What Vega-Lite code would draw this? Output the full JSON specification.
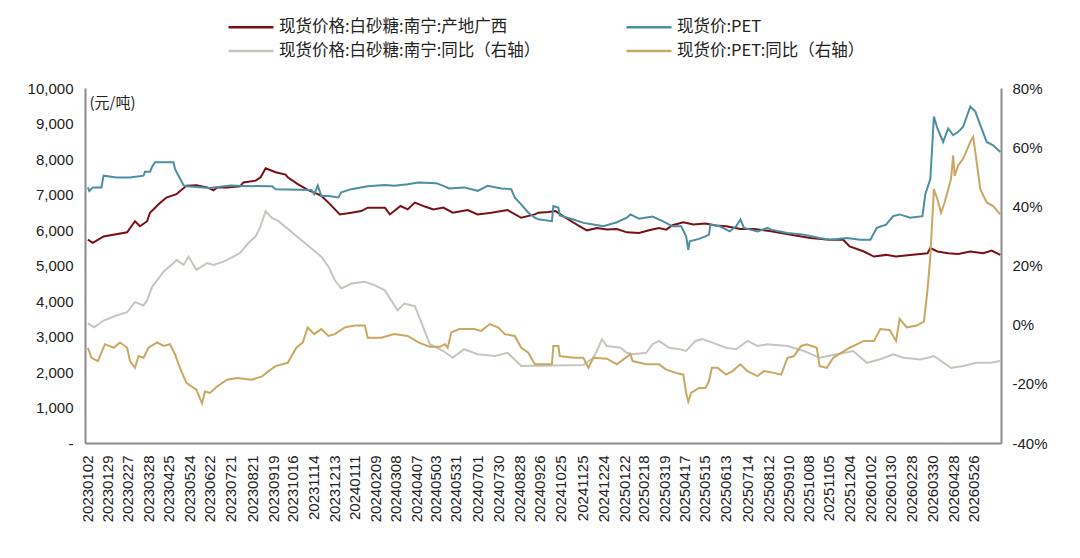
{
  "$schema": "https://vega.github.io/schema/vega-lite/v6.json",
  "width": 916,
  "height": 355,
  "autosize": {"type": "none"},
  "padding": {"left": 85, "top": 88, "right": 79, "bottom": 115},
  "background": "#ffffff",
  "datasets": {
    "sugar": [
      {"d": "2023-01-02", "v": 5727}, {"d": "2023-01-09", "v": 5640}, {"d": "2023-01-24", "v": 5820}, {"d": "2023-02-26", "v": 5934},
      {"d": "2023-03-04", "v": 6105}, {"d": "2023-03-09", "v": 6248}, {"d": "2023-03-16", "v": 6105}, {"d": "2023-03-26", "v": 6248},
      {"d": "2023-03-30", "v": 6487}, {"d": "2023-04-11", "v": 6724}, {"d": "2023-04-22", "v": 6914}, {"d": "2023-05-06", "v": 7009},
      {"d": "2023-05-20", "v": 7245}, {"d": "2023-06-03", "v": 7260}, {"d": "2023-06-18", "v": 7200}, {"d": "2023-06-27", "v": 7120},
      {"d": "2023-07-02", "v": 7200}, {"d": "2023-07-16", "v": 7200}, {"d": "2023-08-03", "v": 7230}, {"d": "2023-08-08", "v": 7340},
      {"d": "2023-08-25", "v": 7390}, {"d": "2023-09-01", "v": 7484}, {"d": "2023-09-08", "v": 7740}, {"d": "2023-09-22", "v": 7626},
      {"d": "2023-10-06", "v": 7560}, {"d": "2023-10-09", "v": 7484}, {"d": "2023-10-23", "v": 7293}, {"d": "2023-11-06", "v": 7130},
      {"d": "2023-11-20", "v": 7009}, {"d": "2023-11-25", "v": 6960}, {"d": "2023-12-05", "v": 6772}, {"d": "2023-12-21", "v": 6439},
      {"d": "2024-01-06", "v": 6487}, {"d": "2024-01-20", "v": 6533}, {"d": "2024-01-29", "v": 6630}, {"d": "2024-02-22", "v": 6630},
      {"d": "2024-02-29", "v": 6439}, {"d": "2024-03-15", "v": 6676}, {"d": "2024-03-25", "v": 6580}, {"d": "2024-04-04", "v": 6772},
      {"d": "2024-04-18", "v": 6660}, {"d": "2024-04-30", "v": 6580}, {"d": "2024-05-14", "v": 6630}, {"d": "2024-05-27", "v": 6487},
      {"d": "2024-06-17", "v": 6560}, {"d": "2024-07-01", "v": 6439}, {"d": "2024-07-20", "v": 6487}, {"d": "2024-08-12", "v": 6560},
      {"d": "2024-08-31", "v": 6345}, {"d": "2024-09-19", "v": 6439}, {"d": "2024-09-24", "v": 6487}, {"d": "2024-10-08", "v": 6505},
      {"d": "2024-10-18", "v": 6533}, {"d": "2024-11-01", "v": 6345}, {"d": "2024-11-21", "v": 6105}, {"d": "2024-12-01", "v": 5991},
      {"d": "2024-12-15", "v": 6058}, {"d": "2024-12-29", "v": 6011}, {"d": "2025-01-12", "v": 6030}, {"d": "2025-01-26", "v": 5934},
      {"d": "2025-02-12", "v": 5915}, {"d": "2025-02-26", "v": 5991}, {"d": "2025-03-12", "v": 6058}, {"d": "2025-03-22", "v": 6011},
      {"d": "2025-03-31", "v": 6134}, {"d": "2025-04-15", "v": 6220}, {"d": "2025-04-29", "v": 6153}, {"d": "2025-05-16", "v": 6182},
      {"d": "2025-05-31", "v": 6125}, {"d": "2025-06-14", "v": 6105}, {"d": "2025-07-04", "v": 6030}, {"d": "2025-07-23", "v": 6030},
      {"d": "2025-08-16", "v": 5963}, {"d": "2025-09-13", "v": 5869}, {"d": "2025-10-10", "v": 5775}, {"d": "2025-11-06", "v": 5726},
      {"d": "2025-11-25", "v": 5726}, {"d": "2025-12-04", "v": 5536}, {"d": "2025-12-24", "v": 5394}, {"d": "2026-01-07", "v": 5251},
      {"d": "2026-01-24", "v": 5299}, {"d": "2026-02-07", "v": 5251}, {"d": "2026-02-27", "v": 5299}, {"d": "2026-03-23", "v": 5346},
      {"d": "2026-03-27", "v": 5489}, {"d": "2026-04-06", "v": 5394}, {"d": "2026-04-21", "v": 5346}, {"d": "2026-05-05", "v": 5327},
      {"d": "2026-05-22", "v": 5394}, {"d": "2026-06-09", "v": 5346}, {"d": "2026-06-21", "v": 5422}, {"d": "2026-07-03", "v": 5299}
    ],
    "pet": [
      {"d": "2023-01-02", "v": 7200}, {"d": "2023-01-04", "v": 7100}, {"d": "2023-01-09", "v": 7200}, {"d": "2023-01-21", "v": 7200},
      {"d": "2023-01-24", "v": 7530}, {"d": "2023-02-11", "v": 7480}, {"d": "2023-03-02", "v": 7480}, {"d": "2023-03-21", "v": 7530},
      {"d": "2023-03-23", "v": 7640}, {"d": "2023-03-30", "v": 7640}, {"d": "2023-04-02", "v": 7780}, {"d": "2023-04-06", "v": 7910},
      {"d": "2023-05-02", "v": 7910}, {"d": "2023-05-04", "v": 7720}, {"d": "2023-05-09", "v": 7530}, {"d": "2023-05-16", "v": 7260},
      {"d": "2023-05-20", "v": 7230}, {"d": "2023-06-22", "v": 7180}, {"d": "2023-07-21", "v": 7250}, {"d": "2023-08-08", "v": 7240},
      {"d": "2023-09-17", "v": 7230}, {"d": "2023-09-22", "v": 7150}, {"d": "2023-11-11", "v": 7130}, {"d": "2023-11-15", "v": 7010},
      {"d": "2023-11-20", "v": 7250}, {"d": "2023-11-25", "v": 6960}, {"d": "2023-12-05", "v": 6960}, {"d": "2023-12-19", "v": 6915},
      {"d": "2023-12-23", "v": 7060}, {"d": "2024-01-06", "v": 7151}, {"d": "2024-01-29", "v": 7230}, {"d": "2024-02-22", "v": 7265},
      {"d": "2024-03-06", "v": 7245}, {"d": "2024-03-25", "v": 7290}, {"d": "2024-04-09", "v": 7340}, {"d": "2024-05-04", "v": 7320},
      {"d": "2024-05-14", "v": 7245}, {"d": "2024-05-22", "v": 7170}, {"d": "2024-06-12", "v": 7200}, {"d": "2024-07-01", "v": 7103},
      {"d": "2024-07-15", "v": 7245}, {"d": "2024-08-03", "v": 7170}, {"d": "2024-08-17", "v": 7150}, {"d": "2024-08-22", "v": 6910},
      {"d": "2024-08-31", "v": 6724}, {"d": "2024-09-10", "v": 6487}, {"d": "2024-09-19", "v": 6345}, {"d": "2024-09-24", "v": 6300},
      {"d": "2024-10-13", "v": 6248}, {"d": "2024-10-15", "v": 6676}, {"d": "2024-10-22", "v": 6630}, {"d": "2024-10-24", "v": 6410},
      {"d": "2024-11-12", "v": 6296}, {"d": "2024-11-26", "v": 6200}, {"d": "2024-12-10", "v": 6153}, {"d": "2024-12-24", "v": 6105},
      {"d": "2025-01-12", "v": 6220}, {"d": "2025-01-26", "v": 6345}, {"d": "2025-01-31", "v": 6439}, {"d": "2025-02-12", "v": 6320},
      {"d": "2025-03-03", "v": 6380}, {"d": "2025-03-17", "v": 6250}, {"d": "2025-03-31", "v": 6105}, {"d": "2025-04-12", "v": 6105},
      {"d": "2025-04-19", "v": 5820}, {"d": "2025-04-22", "v": 5442}, {"d": "2025-04-24", "v": 5680}, {"d": "2025-05-07", "v": 5750},
      {"d": "2025-05-16", "v": 5820}, {"d": "2025-05-21", "v": 5870}, {"d": "2025-05-23", "v": 6153}, {"d": "2025-06-05", "v": 6105},
      {"d": "2025-06-19", "v": 5960}, {"d": "2025-06-28", "v": 6105}, {"d": "2025-07-04", "v": 6296}, {"d": "2025-07-09", "v": 6058},
      {"d": "2025-07-28", "v": 5960}, {"d": "2025-08-11", "v": 6058}, {"d": "2025-08-16", "v": 6011}, {"d": "2025-09-08", "v": 5915},
      {"d": "2025-10-01", "v": 5870}, {"d": "2025-10-23", "v": 5775}, {"d": "2025-11-06", "v": 5726}, {"d": "2025-11-30", "v": 5775},
      {"d": "2025-12-19", "v": 5726}, {"d": "2026-01-02", "v": 5726}, {"d": "2026-01-11", "v": 6059}, {"d": "2026-01-24", "v": 6153},
      {"d": "2026-02-03", "v": 6391}, {"d": "2026-02-12", "v": 6439}, {"d": "2026-02-27", "v": 6345}, {"d": "2026-03-16", "v": 6391},
      {"d": "2026-03-20", "v": 7009}, {"d": "2026-03-27", "v": 7436}, {"d": "2026-04-01", "v": 9194}, {"d": "2026-04-06", "v": 8860},
      {"d": "2026-04-14", "v": 8481}, {"d": "2026-04-21", "v": 8860}, {"d": "2026-04-28", "v": 8670}, {"d": "2026-05-05", "v": 8765},
      {"d": "2026-05-12", "v": 8908}, {"d": "2026-05-22", "v": 9478}, {"d": "2026-05-29", "v": 9336}, {"d": "2026-06-05", "v": 8955},
      {"d": "2026-06-14", "v": 8481}, {"d": "2026-06-23", "v": 8386}, {"d": "2026-07-03", "v": 8196}
    ],
    "sugar_yoy": [
      {"d": "2023-01-02", "v": 0.4}, {"d": "2023-01-11", "v": -0.9}, {"d": "2023-01-24", "v": 1.4}, {"d": "2023-02-11", "v": 3.1},
      {"d": "2023-02-26", "v": 4.2}, {"d": "2023-03-09", "v": 7.6}, {"d": "2023-03-21", "v": 6.5}, {"d": "2023-03-26", "v": 8.2},
      {"d": "2023-04-02", "v": 12.8}, {"d": "2023-04-09", "v": 15}, {"d": "2023-04-18", "v": 17.9}, {"d": "2023-05-02", "v": 20.8},
      {"d": "2023-05-06", "v": 21.9}, {"d": "2023-05-16", "v": 20.2}, {"d": "2023-05-23", "v": 23}, {"d": "2023-05-30", "v": 20.2},
      {"d": "2023-06-03", "v": 18.5}, {"d": "2023-06-18", "v": 20.8}, {"d": "2023-06-27", "v": 20.2}, {"d": "2023-07-11", "v": 21.3},
      {"d": "2023-07-21", "v": 22.5}, {"d": "2023-08-03", "v": 24.2}, {"d": "2023-08-15", "v": 27.6}, {"d": "2023-08-25", "v": 29.8},
      {"d": "2023-09-01", "v": 33.3}, {"d": "2023-09-08", "v": 38.4}, {"d": "2023-09-17", "v": 36.1}, {"d": "2023-09-26", "v": 35},
      {"d": "2023-11-25", "v": 23}, {"d": "2023-12-05", "v": 19.6}, {"d": "2023-12-14", "v": 15}, {"d": "2023-12-23", "v": 12.2},
      {"d": "2024-01-06", "v": 13.9}, {"d": "2024-01-25", "v": 14.5}, {"d": "2024-02-08", "v": 13.3}, {"d": "2024-02-22", "v": 11.6},
      {"d": "2024-03-11", "v": 4.8}, {"d": "2024-03-20", "v": 7.1}, {"d": "2024-04-04", "v": 6.3}, {"d": "2024-04-14", "v": 0.2},
      {"d": "2024-04-25", "v": -6.6}, {"d": "2024-05-14", "v": -8.9}, {"d": "2024-05-27", "v": -11.2}, {"d": "2024-06-12", "v": -8.3},
      {"d": "2024-07-01", "v": -10}, {"d": "2024-07-25", "v": -10.6}, {"d": "2024-08-12", "v": -9.5}, {"d": "2024-08-31", "v": -14},
      {"d": "2024-11-26", "v": -13.6}, {"d": "2024-12-10", "v": -11.2}, {"d": "2024-12-17", "v": -7.8}, {"d": "2024-12-22", "v": -4.9},
      {"d": "2024-12-29", "v": -7.2}, {"d": "2025-01-17", "v": -7.8}, {"d": "2025-01-26", "v": -9.5}, {"d": "2025-02-03", "v": -10},
      {"d": "2025-02-22", "v": -9.5}, {"d": "2025-03-03", "v": -6.6}, {"d": "2025-03-12", "v": -5.5}, {"d": "2025-03-26", "v": -7.8},
      {"d": "2025-04-10", "v": -8.3}, {"d": "2025-04-19", "v": -8.9}, {"d": "2025-05-02", "v": -5.5}, {"d": "2025-05-11", "v": -4.9},
      {"d": "2025-05-25", "v": -6}, {"d": "2025-06-14", "v": -7.8}, {"d": "2025-06-28", "v": -8.3}, {"d": "2025-07-14", "v": -5.5},
      {"d": "2025-07-28", "v": -7.2}, {"d": "2025-08-11", "v": -6.6}, {"d": "2025-09-08", "v": -7.2}, {"d": "2025-10-01", "v": -8.9},
      {"d": "2025-10-23", "v": -11.2}, {"d": "2025-11-16", "v": -10}, {"d": "2025-12-09", "v": -8.9}, {"d": "2025-12-28", "v": -12.9},
      {"d": "2026-01-16", "v": -11.7}, {"d": "2026-02-03", "v": -10}, {"d": "2026-02-17", "v": -11.2}, {"d": "2026-03-13", "v": -11.8},
      {"d": "2026-04-01", "v": -10.6}, {"d": "2026-04-25", "v": -14.6}, {"d": "2026-05-12", "v": -14}, {"d": "2026-05-31", "v": -12.9},
      {"d": "2026-06-19", "v": -12.9}, {"d": "2026-07-03", "v": -12.3}
    ],
    "pet_yoy": [
      {"d": "2023-01-02", "v": -7.8}, {"d": "2023-01-07", "v": -11.2}, {"d": "2023-01-16", "v": -12.3}, {"d": "2023-01-26", "v": -6.6},
      {"d": "2023-02-07", "v": -7.8}, {"d": "2023-02-16", "v": -6}, {"d": "2023-02-26", "v": -7.8}, {"d": "2023-03-02", "v": -12.3},
      {"d": "2023-03-09", "v": -14.6}, {"d": "2023-03-14", "v": -10.6}, {"d": "2023-03-21", "v": -11.2}, {"d": "2023-03-28", "v": -7.8},
      {"d": "2023-04-09", "v": -6}, {"d": "2023-04-18", "v": -7.2}, {"d": "2023-04-27", "v": -6.6}, {"d": "2023-05-04", "v": -10},
      {"d": "2023-05-11", "v": -14.6}, {"d": "2023-05-20", "v": -19.7}, {"d": "2023-06-03", "v": -22}, {"d": "2023-06-11", "v": -26.6},
      {"d": "2023-06-15", "v": -22.6}, {"d": "2023-06-22", "v": -23.1}, {"d": "2023-07-02", "v": -20.9}, {"d": "2023-07-16", "v": -18.6},
      {"d": "2023-07-30", "v": -18}, {"d": "2023-08-20", "v": -18.6}, {"d": "2023-09-03", "v": -17.5}, {"d": "2023-09-12", "v": -15.7},
      {"d": "2023-09-22", "v": -14}, {"d": "2023-10-09", "v": -12.9}, {"d": "2023-10-21", "v": -7.8}, {"d": "2023-10-30", "v": -6},
      {"d": "2023-11-06", "v": -0.9}, {"d": "2023-11-15", "v": -3.2}, {"d": "2023-11-25", "v": -1.5}, {"d": "2023-12-05", "v": -3.8},
      {"d": "2023-12-14", "v": -3.2}, {"d": "2023-12-28", "v": -0.9}, {"d": "2024-01-11", "v": -0.3}, {"d": "2024-01-25", "v": -0.3},
      {"d": "2024-01-29", "v": -4.4}, {"d": "2024-02-17", "v": -4.4}, {"d": "2024-03-06", "v": -3.2}, {"d": "2024-03-25", "v": -3.8},
      {"d": "2024-04-09", "v": -6}, {"d": "2024-04-25", "v": -7.5}, {"d": "2024-05-09", "v": -7.5}, {"d": "2024-05-16", "v": -6.6},
      {"d": "2024-05-20", "v": -7.8}, {"d": "2024-05-25", "v": -2.6}, {"d": "2024-06-05", "v": -1.5}, {"d": "2024-06-26", "v": -1.5},
      {"d": "2024-07-06", "v": -2.1}, {"d": "2024-07-18", "v": 0.2}, {"d": "2024-07-30", "v": -1}, {"d": "2024-08-08", "v": -3.2},
      {"d": "2024-08-22", "v": -3.8}, {"d": "2024-08-31", "v": -7.8}, {"d": "2024-09-10", "v": -9.5}, {"d": "2024-09-19", "v": -13.4},
      {"d": "2024-10-13", "v": -13.4}, {"d": "2024-10-15", "v": -7.2}, {"d": "2024-10-22", "v": -7.2}, {"d": "2024-10-24", "v": -10.6},
      {"d": "2024-11-12", "v": -11.2}, {"d": "2024-11-26", "v": -11.2}, {"d": "2024-12-03", "v": -14.6}, {"d": "2024-12-10", "v": -11.2},
      {"d": "2024-12-29", "v": -11.5}, {"d": "2025-01-12", "v": -13.4}, {"d": "2025-01-31", "v": -10}, {"d": "2025-02-03", "v": -12.3},
      {"d": "2025-02-22", "v": -13.4}, {"d": "2025-03-12", "v": -13.4}, {"d": "2025-03-22", "v": -15.2}, {"d": "2025-04-05", "v": -16.3},
      {"d": "2025-04-15", "v": -16.9}, {"d": "2025-04-19", "v": -23.1}, {"d": "2025-04-22", "v": -26}, {"d": "2025-04-26", "v": -23.1},
      {"d": "2025-05-07", "v": -21.4}, {"d": "2025-05-16", "v": -21.4}, {"d": "2025-05-21", "v": -19.1}, {"d": "2025-05-25", "v": -14.6},
      {"d": "2025-06-02", "v": -14.6}, {"d": "2025-06-14", "v": -16.9}, {"d": "2025-06-23", "v": -15.7}, {"d": "2025-07-04", "v": -13.4},
      {"d": "2025-07-14", "v": -15.7}, {"d": "2025-07-28", "v": -17.4}, {"d": "2025-08-06", "v": -15.7}, {"d": "2025-08-20", "v": -16.3},
      {"d": "2025-08-30", "v": -16.9}, {"d": "2025-09-08", "v": -11.2}, {"d": "2025-09-17", "v": -10.6}, {"d": "2025-09-27", "v": -7.2},
      {"d": "2025-10-05", "v": -6.6}, {"d": "2025-10-19", "v": -7.8}, {"d": "2025-10-23", "v": -14}, {"d": "2025-11-02", "v": -14.6},
      {"d": "2025-11-11", "v": -11.2}, {"d": "2025-12-04", "v": -7.8}, {"d": "2025-12-24", "v": -5.5}, {"d": "2026-01-07", "v": -5.5},
      {"d": "2026-01-16", "v": -1.5}, {"d": "2026-01-29", "v": -1.8}, {"d": "2026-02-07", "v": -5.5}, {"d": "2026-02-12", "v": 2},
      {"d": "2026-02-22", "v": -0.9}, {"d": "2026-03-08", "v": -0.3}, {"d": "2026-03-18", "v": 1}, {"d": "2026-03-23", "v": 11.6},
      {"d": "2026-03-27", "v": 23}, {"d": "2026-04-01", "v": 45.8}, {"d": "2026-04-06", "v": 42.4}, {"d": "2026-04-11", "v": 37.8},
      {"d": "2026-04-16", "v": 41.3}, {"d": "2026-04-25", "v": 49.2}, {"d": "2026-04-28", "v": 57.2}, {"d": "2026-04-30", "v": 50.3},
      {"d": "2026-05-05", "v": 53.8}, {"d": "2026-05-12", "v": 56.1}, {"d": "2026-05-22", "v": 61.8}, {"d": "2026-05-26", "v": 63.5},
      {"d": "2026-05-31", "v": 54.9}, {"d": "2026-06-05", "v": 45.8}, {"d": "2026-06-14", "v": 41.3}, {"d": "2026-06-23", "v": 40.1},
      {"d": "2026-07-03", "v": 37.3}
    ]
  },
  "encoding": {
    "x": {
      "field": "d",
      "type": "temporal",
      "scale": {
        "type": "utc",
        "domain": [{"year": 2022, "month": 12, "date": 29, "utc": true}, {"year": 2026, "month": 7, "date": 4, "utc": true}]
      },
      "axis": {
        "title": null,
        "values": [
          {"year": 2023, "month": 1, "date": 2, "utc": true}, {"year": 2023, "month": 1, "date": 29, "utc": true},
          {"year": 2023, "month": 2, "date": 27, "utc": true}, {"year": 2023, "month": 3, "date": 28, "utc": true},
          {"year": 2023, "month": 4, "date": 25, "utc": true}, {"year": 2023, "month": 5, "date": 24, "utc": true},
          {"year": 2023, "month": 6, "date": 22, "utc": true}, {"year": 2023, "month": 7, "date": 21, "utc": true},
          {"year": 2023, "month": 8, "date": 21, "utc": true}, {"year": 2023, "month": 9, "date": 19, "utc": true},
          {"year": 2023, "month": 10, "date": 16, "utc": true}, {"year": 2023, "month": 11, "date": 14, "utc": true},
          {"year": 2023, "month": 12, "date": 13, "utc": true}, {"year": 2024, "month": 1, "date": 11, "utc": true},
          {"year": 2024, "month": 2, "date": 9, "utc": true}, {"year": 2024, "month": 3, "date": 8, "utc": true},
          {"year": 2024, "month": 4, "date": 7, "utc": true}, {"year": 2024, "month": 5, "date": 3, "utc": true},
          {"year": 2024, "month": 5, "date": 31, "utc": true}, {"year": 2024, "month": 7, "date": 1, "utc": true},
          {"year": 2024, "month": 7, "date": 30, "utc": true}, {"year": 2024, "month": 8, "date": 28, "utc": true},
          {"year": 2024, "month": 9, "date": 26, "utc": true}, {"year": 2024, "month": 10, "date": 25, "utc": true},
          {"year": 2024, "month": 11, "date": 25, "utc": true}, {"year": 2024, "month": 12, "date": 24, "utc": true},
          {"year": 2025, "month": 1, "date": 22, "utc": true}, {"year": 2025, "month": 2, "date": 18, "utc": true},
          {"year": 2025, "month": 3, "date": 19, "utc": true}, {"year": 2025, "month": 4, "date": 17, "utc": true},
          {"year": 2025, "month": 5, "date": 15, "utc": true}, {"year": 2025, "month": 6, "date": 13, "utc": true},
          {"year": 2025, "month": 7, "date": 14, "utc": true}, {"year": 2025, "month": 8, "date": 12, "utc": true},
          {"year": 2025, "month": 9, "date": 10, "utc": true}, {"year": 2025, "month": 10, "date": 8, "utc": true},
          {"year": 2025, "month": 11, "date": 5, "utc": true}, {"year": 2025, "month": 12, "date": 4, "utc": true},
          {"year": 2026, "month": 1, "date": 2, "utc": true}, {"year": 2026, "month": 1, "date": 30, "utc": true},
          {"year": 2026, "month": 2, "date": 28, "utc": true}, {"year": 2026, "month": 3, "date": 30, "utc": true},
          {"year": 2026, "month": 4, "date": 28, "utc": true}, {"year": 2026, "month": 5, "date": 26, "utc": true}
        ],
        "labelExpr": "utcFormat(datum.value, '%Y%m%d')",
        "labelAngle": -90,
        "labelAlign": "right",
        "labelBaseline": "middle",
        "labelPadding": 12,
        "labelOverlap": false,
        "labelFlush": false,
        "ticks": false,
        "grid": false
      }
    }
  },
  "layer": [
    {
      "encoding": {
        "y": {
          "type": "quantitative",
          "scale": {"domain": [0, 10000], "nice": false, "zero": false},
          "axis": {
            "orient": "left",
            "values": [0, 1000, 2000, 3000, 4000, 5000, 6000, 7000, 8000, 9000, 10000],
            "labelExpr": "datum.value == 0 ? '-' : format(datum.value, ',')",
            "title": "(元/吨)",
            "titleAngle": 0,
            "titleAlign": "left",
            "titleBaseline": "middle",
            "titleX": 4,
            "titleY": 14,
            "titleFont": "Noto Sans CJK SC",
            "titleFontSize": 15,
            "titleFontWeight": "normal",
            "titleColor": "#222222",
            "labelPadding": 12
          }
        }
      },
      "layer": [
        {
          "data": {"name": "sugar"},
          "mark": {"type": "line", "strokeWidth": 2},
          "encoding": {
            "y": {"field": "v", "type": "quantitative"},
            "color": {
              "datum": "现货价格:白砂糖:南宁:产地广西",
              "type": "nominal",
              "scale": {
                "domain": ["现货价格:白砂糖:南宁:产地广西", "现货价:PET", "现货价格:白砂糖:南宁:同比（右轴）", "现货价:PET:同比（右轴）"],
                "range": ["#7a1016", "#4c8ea2", "#c6c6bf", "#c9a862"]
              }
            }
          }
        },
        {
          "data": {"name": "pet"},
          "mark": {"type": "line", "strokeWidth": 2},
          "encoding": {
            "y": {"field": "v", "type": "quantitative"},
            "color": {"datum": "现货价:PET", "type": "nominal"}
          }
        }
      ]
    },
    {
      "encoding": {
        "y": {
          "type": "quantitative",
          "scale": {"domain": [-40, 80], "nice": false, "zero": false},
          "axis": {
            "orient": "right",
            "values": [-40, -20, 0, 20, 40, 60, 80],
            "labelExpr": "datum.value + '%'",
            "title": null,
            "labelPadding": 11
          }
        }
      },
      "layer": [
        {
          "data": {"name": "sugar_yoy"},
          "mark": {"type": "line", "strokeWidth": 2},
          "encoding": {
            "y": {"field": "v", "type": "quantitative"},
            "color": {"datum": "现货价格:白砂糖:南宁:同比（右轴）", "type": "nominal"}
          }
        },
        {
          "data": {"name": "pet_yoy"},
          "mark": {"type": "line", "strokeWidth": 2},
          "encoding": {
            "y": {"field": "v", "type": "quantitative"},
            "color": {"datum": "现货价:PET:同比（右轴）", "type": "nominal"}
          }
        }
      ]
    }
  ],
  "resolve": {"scale": {"y": "independent"}},
  "config": {
    "view": {"stroke": null},
    "axis": {
      "grid": false,
      "ticks": false,
      "domainColor": "#8c8c8c",
      "domainWidth": 2,
      "labelFont": "Liberation Sans",
      "labelFontSize": 15,
      "labelColor": "#222222"
    },
    "legend": {
      "title": null,
      "orient": "none",
      "legendX": 157,
      "legendY": -70,
      "direction": "horizontal",
      "columns": 2,
      "columnPadding": 80,
      "rowPadding": 6,
      "symbolType": "M-3,0H3",
      "symbolSize": 225,
      "symbolStrokeWidth": 2.5,
      "symbolFillColor": "transparent",
      "labelFont": "Noto Sans CJK SC",
      "labelFontSize": 16.5,
      "labelColor": "#222222",
      "labelLimit": 400,
      "labelOffset": 19
    }
  }
}
